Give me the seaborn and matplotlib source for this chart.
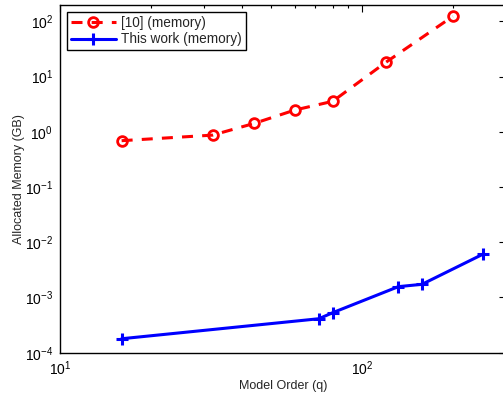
import numpy as np
import pandas as pd
import matplotlib
matplotlib.use("Agg")
import matplotlib.pyplot as plt
import seaborn as sns
from matplotlib.ticker import LogLocator, NullFormatter, FixedLocator

# Data
q_ref = [16, 32, 44, 60, 80, 120, 200]
mem_ref = [0.69, 0.87, 1.42, 2.48, 3.56, 18.1, 123.0]
q_this = [16, 72, 80, 132, 158, 252]
mem_this = [1.79e-4, 4.12e-4, 5.3e-4, 1.57e-3, 1.73e-3, 6.1e-3]
label_ref = "[10] (memory)"
label_this = "This work (memory)"
x_major = [10, 100]
y_major = [1e-4, 1e-3, 1e-2, 1e-1, 1e0, 1e1, 1e2]

sns.set_style("white")
plt.rcParams['font.family'] = ['Liberation Sans', 'DejaVu Sans']
plt.rcParams['mathtext.fontset'] = 'custom'
plt.rcParams['mathtext.rm'] = 'Liberation Sans'
plt.rcParams['mathtext.it'] = 'Liberation Sans:italic'

df_ref = pd.DataFrame({"q": q_ref, "mem": mem_ref})
df_this = pd.DataFrame({"q": q_this, "mem": mem_this})

fig = plt.figure(figsize=(5.03, 4.0), dpi=100)
ax = fig.add_axes([60/503, 47.3/400, 446/503, 348/400])

sns.lineplot(data=df_ref, x="q", y="mem", ax=ax, color="#ff0000", legend=False)
sns.lineplot(data=df_this, x="q", y="mem", ax=ax, color="#0000ff", legend=False)

l_ref, l_this = ax.get_lines()[:2]
l_ref.set_linestyle((0, (3.6, 3.0)))
l_ref.set_linewidth(2.2)
l_ref.set_marker("o")
l_ref.set_markersize(7)
l_ref.set_markerfacecolor("none")
l_ref.set_markeredgecolor("#ff0000")
l_ref.set_markeredgewidth(2.0)
l_ref.set_label(label_ref)

l_this.set_linestyle("-")
l_this.set_linewidth(2.2)
l_this.set_marker("+")
l_this.set_markersize(8)
l_this.set_markeredgewidth(2.2)
l_this.set_markeredgecolor("#0000ff")
l_this.set_label(label_this)

ax.set_xscale("log")
ax.set_yscale("log")
ax.set_xlim(10, 300)
ax.set_ylim(1e-4, 200)

ax.xaxis.set_major_locator(FixedLocator(x_major))
ax.xaxis.set_minor_locator(LogLocator(base=10, subs=np.arange(2, 10), numticks=20))
ax.yaxis.set_major_locator(FixedLocator(y_major))
ax.yaxis.set_minor_locator(LogLocator(base=10, subs=np.arange(2, 10), numticks=20))
ax.xaxis.set_minor_formatter(NullFormatter())
ax.yaxis.set_minor_formatter(NullFormatter())

ax.tick_params(which="both", direction="in", top=True, right=True, colors="black",
               labelsize=10, width=0.8)
ax.tick_params(which="major", length=5, pad=5)
ax.tick_params(which="minor", length=2.5)
for s in ax.spines.values():
    s.set_color("black")
    s.set_linewidth(1.0)

ax.set_xlabel("Model Order (q)", fontsize=9, labelpad=1)
ax.set_ylabel("Allocated Memory (GB)", fontsize=9, labelpad=0)

leg = ax.legend(handles=[l_ref, l_this], loc="upper left", fontsize=9.8, frameon=True,
                fancybox=False, edgecolor="black", framealpha=1, borderpad=0.3,
                labelspacing=0.2, handlelength=3.3, handletextpad=0.4,
                borderaxespad=0.5)
leg.get_frame().set_linewidth(1.0)

fig.savefig("out.png", dpi=100)
